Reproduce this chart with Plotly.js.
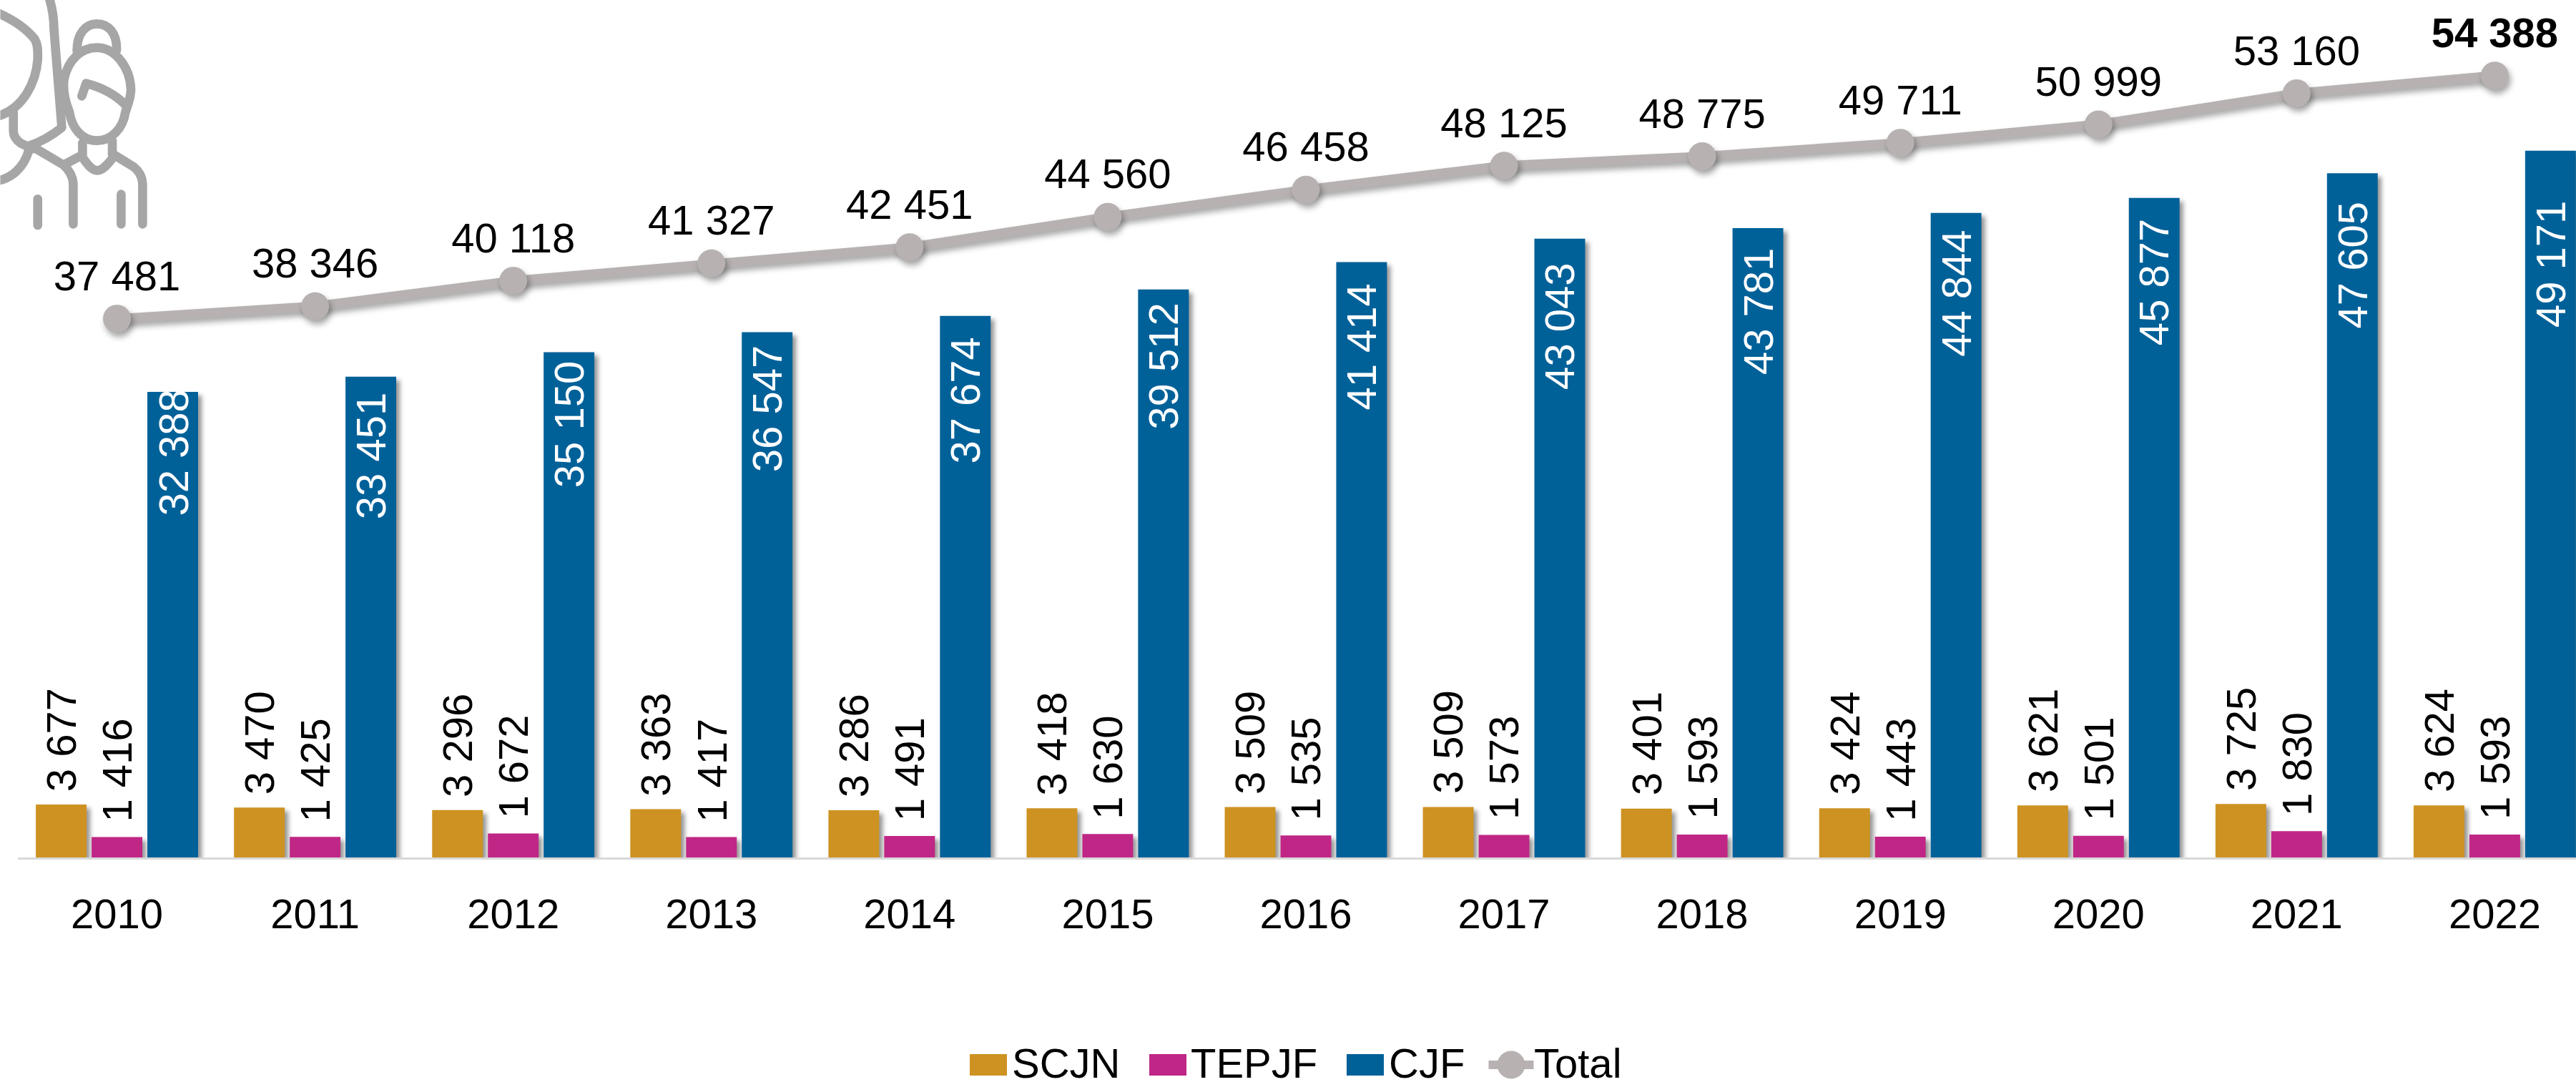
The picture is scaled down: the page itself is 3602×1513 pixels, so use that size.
<!DOCTYPE html>
<html>
<head>
<meta charset="utf-8">
<script src="https://cdn.plot.ly/plotly-3.0.1.min.js"></script>
<style>
html,body{margin:0;padding:0;background:#fff;overflow:hidden}
#chart{width:3602px;height:1513px}
.barlayer .point path{filter:drop-shadow(5px 5px 3px rgba(0,0,0,.42))}
.scatterlayer .js-line{filter:drop-shadow(3px 6px 4px rgba(0,0,0,.35))}
.scatterlayer .points path{filter:drop-shadow(3px 6px 4px rgba(0,0,0,.35))}
</style>
</head>
<body>
<div id="chart"></div>
<script>
var years = ['2010','2011','2012','2013','2014','2015','2016','2017','2018','2019','2020','2021','2022'];
var scjn  = [3677,3470,3296,3363,3286,3418,3509,3509,3401,3424,3621,3725,3624];
var tepjf = [1416,1425,1672,1417,1491,1630,1535,1573,1593,1443,1501,1830,1593];
var cjf   = [32388,33451,35150,36547,37674,39512,41414,43043,43781,44844,45877,47605,49171];
var total = [37481,38346,40118,41327,42451,44560,46458,48125,48775,49711,50999,53160,54388];

// how far each CJF label's centre sits below the top of its bar, in pixels
var cjfLabelDrop = [85,111,101,107,118,107,118,123,117,113,118,129,159];

var GOLD='#cd9221', MAGENTA='#c02686', BLUE='#006199', GREY='#b7b1b1';
var FONT='"Liberation Sans", Arial, sans-serif', FS=58;
var W=3602, H=1513, ML=24.6, MB=314;
var plotW=W-ML, plotH=H-MB;
var SHIFT=78;

function fmt(v){return String(v).replace(/\B(?=(\d{3})+$)/g,' ');}

var barBase={type:'bar',x:years,cliponaxis:false,hoverinfo:'skip',marker:{line:{width:0}}};
var traces=[
  Object.assign({},barBase,{name:'SCJN',y:scjn,marker:{color:GOLD}}),
  Object.assign({},barBase,{name:'TEPJF',y:tepjf,marker:{color:MAGENTA}}),
  Object.assign({},barBase,{name:'CJF',y:cjf,marker:{color:BLUE}}),
  {type:'scatter',mode:'lines+markers+text',name:'Total',x:years,y:total,cliponaxis:false,hoverinfo:'skip',
   line:{color:GREY,width:13},marker:{color:GREY,size:39},
   text:total.map(fmt),textposition:'top center',
   textfont:{family:FONT,size:FS,color:'#000',weight:total.map(function(v,i){return i===total.length-1?700:400;})}}
];

var annotations=[];
function lab(i,v,xs,ys,anchor,color){
  annotations.push({xref:'x',yref:'y',x:i,y:v,text:fmt(v),textangle:-90,showarrow:false,
    xshift:xs,yshift:ys,xanchor:'center',yanchor:anchor,borderpad:0,borderwidth:0,
    font:{family:FONT,size:FS,color:color}});
}
years.forEach(function(y,i){
  lab(i,scjn[i],-SHIFT,18,'bottom','#000');
  lab(i,tepjf[i],0,21,'bottom','#000');
  lab(i,cjf[i],SHIFT,-cjfLabelDrop[i],'middle','#fff');
});

var iconPaths=[
 'M322,215 C320,140 360,100 405,100 C455,100 490,140 488,210',
 'M290,470 C270,420 262,370 268,330 C285,250 340,200 405,200 C480,200 545,280 548,375 C548,410 535,440 525,470 C515,540 465,590 405,590 C345,590 300,540 290,470 Z',
 'M342,403 L360,350 C420,365 480,395 525,440',
 'M345,600 V655','M470,590 V650',
 'M345,660 C365,690 385,715 407,715 C430,715 450,690 470,665',
 'M470,645 L560,700 C585,720 597,745 597,775 V940',
 'M345,650 L265,692 L135,615',
 'M265,692 C290,715 306,740 306,775 V940',
 'M157,835 V945','M507,815 V940',
 'M-20,50 C50,80 110,120 145,165 C160,190 157,220 157,250 C150,340 100,460 -20,490',
 'M55,470 V550 C55,575 70,590 85,600 L135,625',
 'M205,-10 C220,40 225,80 225,120 L258,535 C215,570 170,595 120,612',
 'M120,630 C100,700 50,750 -20,760'
];
var iconSvg='<svg xmlns="http://www.w3.org/2000/svg" width="500" height="500" viewBox="0 0 1500 1500">'+
  '<path fill="none" stroke="#a6a6a6" stroke-width="38" stroke-linecap="round" stroke-linejoin="round" d="'+iconPaths.join(' ')+'"/></svg>';

var layout={
  width:W,height:H,
  paper_bgcolor:'#fff',plot_bgcolor:'rgba(0,0,0,0)',
  font:{family:FONT,size:FS,color:'#000'},
  margin:{l:ML,r:0,t:0,b:MB,pad:0,autoexpand:false},
  barmode:'group',bargap:0.156,bargroupgap:0.09,
  showlegend:true,
  legend:{orientation:'h',x:0.3,xanchor:'left',y:-0.2,yanchor:'top',font:{family:FONT,size:FS,color:'#000'},bgcolor:'rgba(0,0,0,0)'},
  xaxis:{type:'category',categoryorder:'array',categoryarray:years,range:[-0.5,12.41],
    showgrid:false,zeroline:false,showline:true,linecolor:'#d9d9d9',linewidth:3,layer:'below traces',
    ticks:'',ticklabelstandoff:26,tickfont:{family:FONT,size:FS,color:'#000'},tickangle:0,fixedrange:true,automargin:false},
  yaxis:{range:[0,1199/0.0201],visible:false,showgrid:false,zeroline:false,fixedrange:true,automargin:false},
  annotations:annotations,
  images:[{source:'data:image/svg+xml;base64,'+btoa(iconSvg),xref:'paper',yref:'paper',
    x:-ML/plotW,y:1,sizex:500/plotW,sizey:500/plotH,xanchor:'left',yanchor:'top',sizing:'stretch',layer:'above'}]
};

// legend geometry in page pixels: swatch centre x, text left x
var legendCentreX=[1382,1633,1909,2113];
var legendTextX=[1415,1665,1942,2145];
var legendY=1489, legendBaseline=18;

function fixLegend(){
  var root=document.querySelector('.legend');
  if(!root) return;
  root.setAttribute('transform','translate(0,0)');
  var sb=root.querySelector('.scrollbox');
  sb.setAttribute('transform','translate(0,0)');
  sb.removeAttribute('clip-path');
  sb.style.clipPath='none';
  root.removeAttribute('clip-path');
  var bg=root.querySelector('rect.bg'); if(bg) bg.style.display='none';
  root.querySelectorAll('.groups .traces').forEach(function(g,i){
    var c=20;
    g.setAttribute('transform','translate('+(legendCentreX[i]-c)+','+legendY+')');
    var t=g.querySelector('text.legendtext');
    t.setAttribute('x',legendTextX[i]-(legendCentreX[i]-c));
    t.setAttribute('y',legendBaseline);
    if(i<3){
      g.querySelectorAll('path').forEach(function(p){
        p.setAttribute('d','M26,15H-26V-15H26Z');
        p.setAttribute('transform','translate('+c+',0)');
        p.style.filter='none';
      });
    }
    var ln=g.querySelector('.legendlines path');
    if(ln){ ln.setAttribute('d','M'+(c-31.5)+',0h63'); ln.style.strokeWidth='12px'; ln.style.filter='none'; }
    var pt=g.querySelector('path.scatterpts');
    if(pt){ pt.setAttribute('d','M19.5,0A19.5,19.5 0 1,1 0,-19.5A19.5,19.5 0 0,1 19.5,0Z'); pt.setAttribute('transform','translate('+c+',0)'); pt.style.filter='none'; }
    var tog=g.querySelector('.legendtoggle'); if(tog) tog.style.display='none';
  });
}

Plotly.newPlot('chart',traces,layout,{staticPlot:true,displayModeBar:false,responsive:false}).then(fixLegend);
</script>
</body>
</html>
